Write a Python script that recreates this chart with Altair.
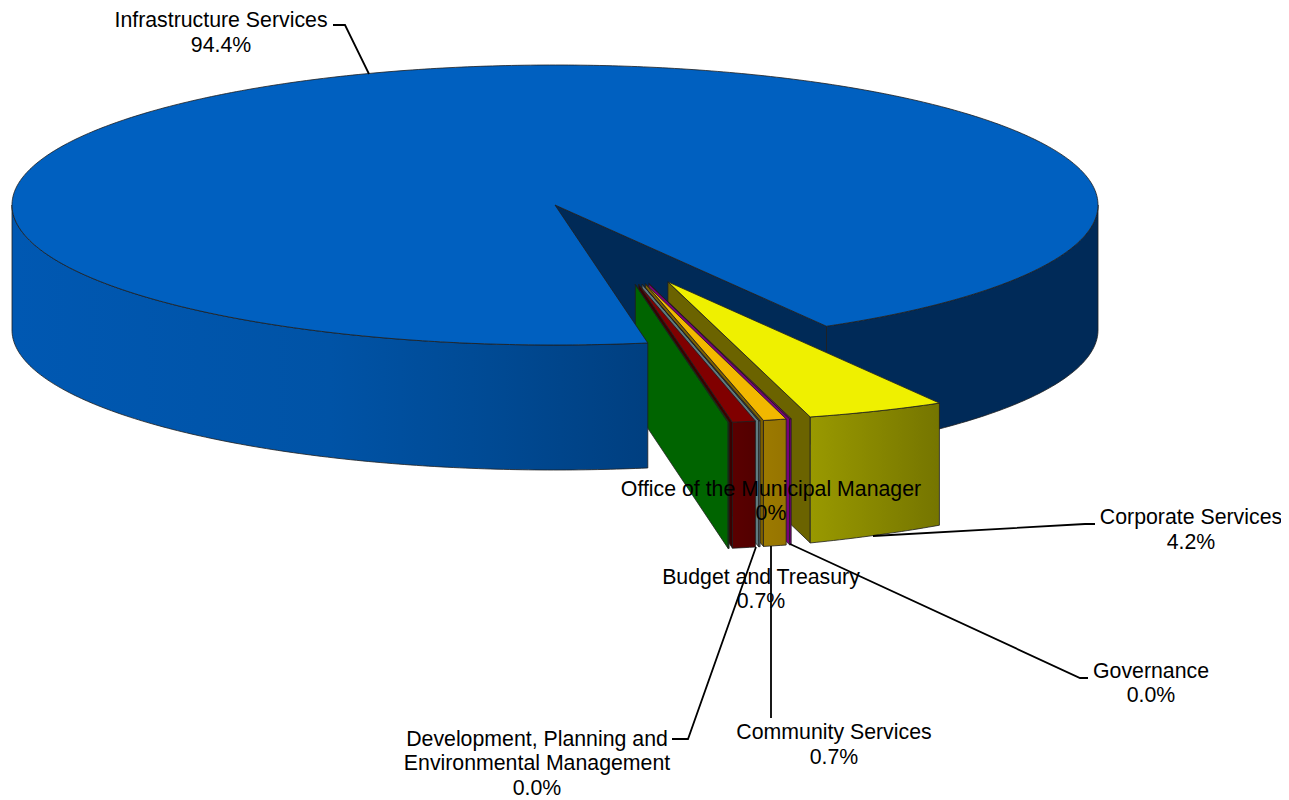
import math
import altair as alt
import pandas as pd

# ---- values ----
main_share = 94.4
slice_names = ["Corporate Services", "Governance", "Community Services",
               "Development, Planning and Environmental Management",
               "Budget and Treasury", "Office of the Municipal Manager"]
slice_shares = [4.2, 0.05, 0.7, 0.04, 0.7, 0.03]

top_colors = ["#EFF000", "#800080", "#F2B800", "#4A4A4A", "#800000", "#008000"]
side_colors = ["#6B6300", "#780078", "#7D6000", "#5F7A80", "#3B0000", "#006400"]
front_left = ["#999900", "#800080", "#9C7A00", "#6A8088", "#5A0000", "#005000"]
front_right = ["#757500", "#700070", "#967400", "#607880", "#520000", "#004800"]

label_lines = [
    ("Infrastructure Services", 221, 21), ("94.4%", 221, 46),
    ("Office of the Municipal Manager", 771, 490), ("0%", 771, 514),
    ("Corporate Services", 1191, 518), ("4.2%", 1191, 543),
    ("Budget and Treasury", 761, 578), ("0.7%", 761, 602),
    ("Governance", 1151, 672), ("0.0%", 1151, 696),
    ("Community Services", 834, 733), ("0.7%", 834, 758),
    ("Development, Planning and", 537, 740), ("Environmental Management", 537, 764), ("0.0%", 537, 789),
]
leaders = [
    [(333, 25), (345, 25), (369, 74)],
    [(873, 536), (1085, 524), (1095, 524)],
    [(790, 544), (1080, 678), (1088, 678)],
    [(771, 546), (771, 718)],
    [(756, 547), (688, 739), (672, 739)],
]

# ---- projection of the tilted pie ----
CX, CY, RX, RY, DEPTH = 555, 205, 543, 140, 125
START = 60.0
EXPLODE = 0.587
W, H = 1273, 792
xs = alt.Scale(domain=[8, 8 + W], zero=False, nice=False)
ys = alt.Scale(domain=[8 + H, 8], zero=False, nice=False)


def rim(a0, a1, ox=0.0, oy=0.0, dz=0.0):
    n = max(2, int(abs(a1 - a0) * 1.5) + 2) if abs(a1 - a0) > 1 else 2
    out = []
    for k in range(n):
        a = math.radians(a0 + (a1 - a0) * k / (n - 1))
        out.append((CX + ox + RX * math.cos(a), CY + oy + RY * math.sin(a) + dz))
    return out


def slice_depth(x):
    # the near corner of a slice is slightly taller than the far one
    return 126 - max(0.0, x - 810) * 0.03


def poly(points, fill, stroke="#1E1E1E", sw=0.8):
    pts = list(points) + [points[0]]
    df = pd.DataFrame({"x": [p[0] for p in pts], "y": [p[1] for p in pts], "i": range(len(pts))})
    return alt.Chart(df).mark_line(fill=fill, stroke=stroke, strokeWidth=sw, strokeJoin="round").encode(
        x=alt.X("x:Q", scale=xs, axis=None),
        y=alt.Y("y:Q", scale=ys, axis=None),
        order=alt.Order("i:Q"),
    )


def hgrad(stops):
    return alt.LinearGradient(
        gradient="linear", x1=0, y1=0, x2=1, y2=0,
        stops=[alt.GradientStop(offset=o, color=c) for o, c in stops],
    )


layers = []
gap = (100 - main_share) * 3.6
main_end = START + gap

# back part of the main slice: right rim and the inner cut face
layers.append(poly(rim(START, 0) + rim(0, START, dz=DEPTH), "#002A58"))
inner_edge = rim(START, START)[0]
layers.append(poly([(CX, CY), inner_edge, (inner_edge[0], inner_edge[1] + DEPTH), (CX, CY + DEPTH)], "#002A57"))

# exploded small slices, right to left
total = sum(slice_shares)
a = START
for i, s in enumerate(slice_shares):
    a0 = a
    a1 = a + s / total * gap
    a = a1
    mid = (a0 + a1) / 2
    d = math.radians(69.3 + 0.484 * (mid - 67.5))
    ox, oy = EXPLODE * RX * math.cos(d), EXPLODE * RY * math.sin(d)
    apex = (CX + ox, CY + oy)
    arc_top = rim(a0, a1, ox, oy)
    arc_bot = [(p[0], p[1] + slice_depth(p[0])) for p in arc_top]
    outer = arc_top[-1]
    # side face on the left
    layers.append(poly([apex, outer, arc_bot[-1], (apex[0], apex[1] + DEPTH)], side_colors[i]))
    # curved front face
    layers.append(poly(arc_top + arc_bot[::-1], hgrad([(0, front_left[i]), (1, front_right[i])])))
    # top face
    layers.append(poly([apex] + arc_top, top_colors[i]))

# front part of the main slice (gradient runs left to right across the bounding box)
layers.append(poly(
    rim(main_end, 180) + rim(180, main_end, dz=DEPTH),
    hgrad([(0, "#0058B2"), (0.5, "#0053A6"), (0.75, "#004A94"), (1, "#003F80")]),
))
layers.append(poly([(CX, CY)] + rim(main_end, START + 360), "#0060C0"))

# leader lines
for j, line in enumerate(leaders):
    df = pd.DataFrame({"x": [p[0] for p in line], "y": [p[1] for p in line], "i": range(len(line))})
    layers.append(alt.Chart(df).mark_line(color="#000000", strokeWidth=1.8).encode(
        x=alt.X("x:Q", scale=xs, axis=None), y=alt.Y("y:Q", scale=ys, axis=None), order=alt.Order("i:Q")))

# labels
lab = pd.DataFrame(label_lines, columns=["t", "x", "y"])
layers.append(alt.Chart(lab).mark_text(font="Liberation Sans", fontSize=21.3, color="#000000",
                                       align="center", baseline="middle").encode(
    x=alt.X("x:Q", scale=xs, axis=None), y=alt.Y("y:Q", scale=ys, axis=None), text="t:N"))

chart = alt.layer(*layers).properties(
    width=W, height=H, padding=0, autosize=alt.AutoSizeParams(type="none"),
    background="#FFFFFF",
).configure_view(stroke=None)

chart.save("out.html", embed_options={"renderer": "svg", "actions": False})
